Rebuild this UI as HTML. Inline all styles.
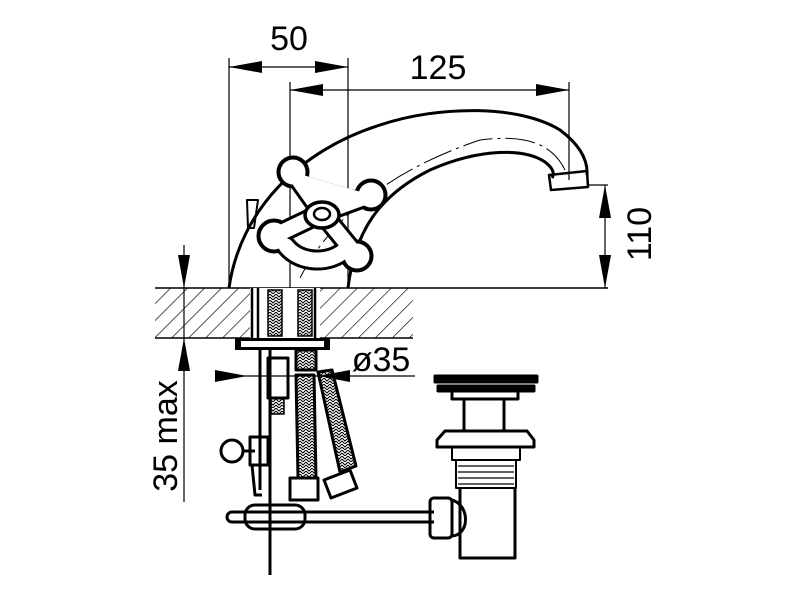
<!DOCTYPE html>
<html><head><meta charset="utf-8"><style>html,body{margin:0;padding:0;background:#fff}svg{display:block}</style></head>
<body>
<svg width="800" height="600" viewBox="0 0 800 600" xmlns="http://www.w3.org/2000/svg">
<defs>
<pattern id="h" width="12" height="12" patternUnits="userSpaceOnUse" patternTransform="rotate(45)">
<line x1="0" y1="0" x2="0" y2="12" stroke="#000" stroke-width="1.3"/>
</pattern>
<pattern id="br" width="6" height="6" patternUnits="userSpaceOnUse">
<path d="M0,0 L3,3 L6,0 M0,3 L3,6 L6,3" stroke="#000" stroke-width="1" fill="none"/>
</pattern>
</defs>
<g font-family="Liberation Sans, sans-serif" fill="#000">
<rect x="155" y="288" width="258" height="50" fill="url(#h)"/>
<line x1="155" y1="288" x2="608" y2="288" stroke="#000" stroke-width="1.5"/>
<line x1="155" y1="338" x2="413" y2="338" stroke="#000" stroke-width="1.5"/>
<rect x="250" y="288" width="70" height="50" fill="#fff"/>
<g stroke="#000" stroke-width="1.2" fill="none">
<line x1="229" y1="58" x2="229" y2="288"/>
<line x1="348" y1="58" x2="348" y2="288"/>
<line x1="290" y1="82" x2="290" y2="288"/>
<line x1="569" y1="82" x2="569" y2="180"/>
<line x1="229" y1="67" x2="348" y2="67"/>
<line x1="290" y1="90" x2="569" y2="90"/>
<line x1="587" y1="185" x2="608" y2="185"/>
<line x1="605" y1="185" x2="605" y2="288"/>
<line x1="184" y1="245" x2="184" y2="502"/>
<line x1="215" y1="376" x2="415" y2="376"/>
</g>
<polygon points="229,67 262,61 262,73"/>
<polygon points="348,67 315,61 315,73"/>
<polygon points="290,90 323,84 323,96"/>
<polygon points="569,90 536,84 536,96"/>
<polygon points="605,185 599,218 611,218"/>
<polygon points="605,288 599,255 611,255"/>
<polygon points="184,288 178,255 190,255"/>
<polygon points="184,338 178,371 190,371"/>
<polygon points="247,376 215,370 215,382"/>
<polygon points="318,376 350,370 350,382"/>
<text x="289" y="50" font-size="34" text-anchor="middle">50</text>
<text x="438" y="79" font-size="34" text-anchor="middle">125</text>
<text x="381" y="371" font-size="34" text-anchor="middle">ø35</text>
<text transform="translate(651,234) rotate(-90)" font-size="34" text-anchor="middle">110</text>
<text transform="translate(177,436) rotate(-90)" font-size="34" text-anchor="middle">35 max</text>
<g stroke="#000" stroke-width="3" fill="none" stroke-linejoin="round">
<path d="M229,288 C240,210 300,150 380,125 C440,105 520,105 560,130 C580,145 588,160 587,175"/>
<path d="M348,288 C355,230 380,195 430,170 C480,148 525,148 545,162 C553,168 555,174 552,178"/>
<path d="M549,175 L587,171 L588,187 L551,190 Z" stroke-width="2.5"/>
<path d="M300,278 C340,200 420,160 480,140 C520,135 550,140 565,170" stroke-width="1" stroke-dasharray="30 5 3 5"/>
<path d="M247,200 L258,200 L254,228 L248,228 Z" stroke-width="2"/>
</g>
<g stroke="#000" stroke-linecap="round">
<path d="M293,172 L322,213 L371,195 M322,213 L357,256 M322,213 L274,236" stroke-width="21"/>
<circle cx="293" cy="172" r="16"/><circle cx="371" cy="195" r="16"/><circle cx="357" cy="256" r="16"/><circle cx="274" cy="236" r="17"/>
<path d="M286,246 C300,264 330,264 345,250" stroke-width="21" fill="none"/>
</g>
<g stroke="#fff" fill="#fff" stroke-linecap="round">
<path d="M293,172 L322,213 L371,195 M322,213 L357,256 M322,213 L274,236" stroke-width="15"/>
<circle cx="293" cy="172" r="12.5" stroke="none"/><circle cx="371" cy="195" r="12.5" stroke="none"/><circle cx="357" cy="256" r="12.5" stroke="none"/><circle cx="274" cy="236" r="13.5" stroke="none"/>
<path d="M286,246 C300,264 330,264 345,250" stroke-width="15" fill="none"/>
</g>
<g stroke="#000" fill="none">
<ellipse cx="322" cy="215" rx="17" ry="13" stroke-width="3.5" fill="#fff"/>
<ellipse cx="322" cy="214" rx="8" ry="6" stroke-width="2.5"/>
</g>
<g stroke="#000" fill="none" stroke-width="2.5">
<line x1="252" y1="288" x2="252" y2="338"/>
<line x1="258" y1="288" x2="258" y2="338"/>
<line x1="315" y1="288" x2="315" y2="338"/>
<rect x="268" y="290" width="14" height="46" stroke-width="1.5" fill="url(#br)"/>
<rect x="298" y="290" width="14" height="46" stroke-width="1.5" fill="url(#br)"/>
</g>
<rect x="235" y="338" width="95" height="12" fill="#000"/>
<rect x="241" y="341" width="83" height="6" fill="#fff"/>
<g stroke="#000" fill="none" stroke-width="3" stroke-linejoin="round">
<line x1="260" y1="350" x2="260" y2="490"/>
<line x1="270" y1="350" x2="270" y2="575"/>
<rect x="268" y="358" width="20" height="40"/>
<rect x="271" y="398" width="13" height="16" stroke-width="1.5" fill="url(#br)"/>
<rect x="296" y="350" width="20" height="20" fill="url(#br)"/>
<path d="M296,375 L298,478 L316,478 L314,375 Z" fill="url(#br)"/>
<path d="M318,372 L340,472 L356,466 L332,370 Z" fill="url(#br)"/>
<rect x="290" y="478" width="28" height="22" fill="#fff"/>
<path d="M324,480 L350,470 L357,488 L331,498 Z" fill="#fff"/>
<circle cx="232" cy="451" r="11"/>
<path d="M243,451 L255,451 M250,437 L268,437 L268,465 L250,465 Z"/>
<path d="M252,465 L255,495 L262,495"/>
<path d="M232,512 L434,512 M232,522 L434,522"/>
<path d="M232,512 a5,5 0 0 0 0,10"/>
<rect x="245" y="505" width="60" height="24" rx="10"/>
<rect x="430" y="498" width="22" height="40" rx="4"/>
<path d="M452,500 C470,505 470,535 452,536"/>
<path d="M435,376 L537,376 L537,382 L435,382 Z" fill="#000"/>
<rect x="438" y="386" width="96" height="5" fill="#000"/>
<rect x="452" y="391" width="66" height="8"/>
<rect x="464" y="399" width="40" height="32"/>
<path d="M445,431 L527,431 L534,440 L534,447 L437,447 L437,440 Z"/>
<path d="M452,447 L520,447 L520,460 L452,460 Z" stroke-width="2"/>
<rect x="456" y="460" width="60" height="28" stroke-width="2"/>
<path d="M458,466 H514 M458,472 H514 M458,478 H514 M458,484 H514" stroke-width="1.2"/>
<path d="M460,488 L460,558 L515,558 L515,488"/>
</g>
</g>
</svg>
</body></html>
